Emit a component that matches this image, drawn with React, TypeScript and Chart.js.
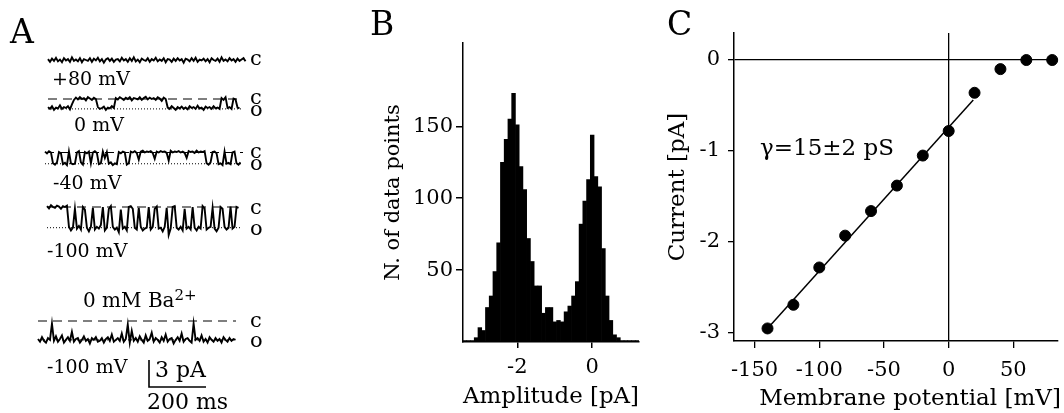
import React, { useEffect, useRef } from "react";
import { Chart, registerables } from "chart.js";

Chart.register(...registerables);

const FONT = "'DejaVu Serif', 'Liberation Serif', serif";
Chart.defaults.font.family = FONT;
Chart.defaults.color = "#000";

// ---------- Panel A : single-channel traces (pA, relative to closed level) ----------
const sampleMs = 7;
const trace80 = [
  0.1, -0.2, 0.15, -0.1, 0.25, -0.15, 0.05, -0.25, 0.2, -0.05,
  0.1, -0.2, 0.3, -0.1, 0.05, -0.15, 0.2, -0.25, 0.1, 0,
  -0.1, 0.2, -0.2, 0.15, -0.05, 0.25, -0.15, 0.1, -0.3, 0.05,
  0.2, -0.1, 0.15, -0.2, 0.05, 0.1, -0.15, 0.25, -0.05, 0.1,
  -0.2, 0.2, -0.1, 0.3, -0.15, 0.05, -0.25, 0.15, 0, -0.1,
  0.2, -0.2, 0.1, -0.05, 0.25, -0.15, 0.05, -0.1, 0.2, -0.25,
  0.1, 0.05, -0.2, 0.15, -0.1, 0.2, -0.05, 0.1, -0.3, 0.15,
  0.05, -0.15, 0.2, -0.1, 0.25, -0.2, 0.05, -0.05, 0.15, -0.15,
  0.1, -0.25, 0.2, 0, -0.1, 0.15, -0.2, 0.3, -0.1, 0.05,
  -0.15, 0.2, -0.05, 0.1, -0.2, 0.15, -0.1, 0.05, 0.2, -0.15,
];
const trace0 = [
  -0.9, -1.1, -0.8, -1.2, -0.95, -1.05, -0.7, -1.1, -0.9, -1.0, -0.8, -1.15, -0.6,
  -0.1, 0.15, -0.05, 0.2, 0.0, 0.1, -0.15, 0.2, 0.05, -0.1, 0.15, 0.0,
  -0.9, -1.1, -1.0, -0.85, -1.2, -0.95, -1.05, -0.8, -1.0,
  0.1, -0.05, 0.2, 0.05, -0.1, 0.15, 0.0, 0.2, -0.15, 0.1, 0.05, -0.05, 0.2,
  -0.1, 0.1, 0.25, -0.05, 0.15, 0.0, 0.1, -0.1, 0.2, 0.05, -0.2, 0.15, 0.0,
  -0.95, -1.1, -0.8, -1.0, -1.2, -0.9, -1.05, -0.85, -1.1, -0.95, -1.15, -0.8, -1.0, -0.9,
  -1.1, -0.75, -1.05, -0.95, -1.2, -0.85, -1.0, -0.9, -1.1, -0.8, -1.05, -0.95, -1.1,
  0.1, -0.1, 0.2, -1.0, -0.9, -1.1, 0.05, -0.05, -0.95, -1.05,
];
const trace40 = [
  0.1, -0.1, 0.15, 0, -1.2, -1.35, -1.1, 0.05, -0.1, -1.3, -1.15, -1.4, 0.1,
  -1.2, -1.3, -1.25, 0.0, 0.15, -1.1, -1.35, 0.05, -0.1, 0.1, -1.2, 0.0, 0.15, -0.05,
  -1.3, -1.2, 0.1, -0.6, 0.05, -1.25, -1.1, -1.4, -1.2, -1.3, 0.05, -0.1, 0.1, 0,
  -1.35, -1.2,
  0.1, 0.0, 0.15, -0.05, -0.8, 0.1, 0.2, 0.0, 0.1, 0.05, 0.15, -0.05, -0.7, 0.1, 0.0,
  0.15, 0.05, 0.1, -0.05, -0.9, 0.2, 0.0, 0.1, 0.05, 0.15, 0.0, 0.1, -0.05, -0.6, 0.15,
  0.05, 0.1, -0.05, 0.2, 0.0, 0.1, 0.05, 0.15,
  -1.2, -1.35, -1.1, 0.05, 0.1, -0.1, -1.3, -1.2, -1.4, 0.1, -1.25, -1.15, -1.3,
  0.0, 0.1, -1.2, -1.35, -1.1,
];
const trace100 = [
  0.1, -0.15, 0.2, 0.0, -0.1, 0.15, 0.05, -0.2, 0.1, 0.0, 0.15,
  -2.2, -2.6, -2.3, -0.2, -2.4, -2.1, -2.5, 0.0, -0.3, -2.3, -2.7, -2.2, -0.1,
  -2.5, -2.2, -2.4, -2.0, 0.0, -2.6, -2.3, -0.2, 0.1, -2.2, -2.5, -2.3, -2.8, -0.3,
  -2.4, -2.2, -2.6, 0.0, 0.1, -0.2, -2.3, -2.5, -0.1, -2.2, -2.6, -2.4, -2.3, 0.0,
  -2.5, -2.2, -0.2, 0.05, -2.4, -2.3, -2.7, -2.2, -0.1, -3.1, -2.4, 0.0, 0.1,
  -2.3, -2.5, -2.2, -2.6, -0.2, -2.4, -2.2, -2.5, 0.0, -2.3, -2.6, -2.2, -2.4,
  0.1, -0.15, -2.5, -2.3, -2.2, -0.1, -2.4, -2.7, -2.3, 0.0, -0.2, -2.2, -2.5, -2.3,
  0.05, -2.4, -2.2, 0.0, -0.1,
];
const traceBa = [
  -2.0, -2.3, -1.8, -2.2, -2.4, -1.9, -2.1, -0.3, -2.2, -1.7,
  -2.3, -2.0, -1.6, -2.4, -2.1, -1.8, -2.2, -1.2, -2.3, -2.0,
  -1.9, -2.4, -2.1, -1.7, -2.2, -2.0, -2.5, -1.9, -2.1, -1.8,
  -2.3, -2.2, -1.9, -2.4, -2.0, -1.8, -2.2, -1.5, -2.3, -2.1,
  -1.9, -2.2, -1.4, -2.3, -2.0, -0.4, -2.4, -1.1, -2.2, -1.9,
  -2.3, -1.7, -2.1, -2.4, -1.6, -2.2, -2.0, -1.3, -2.3, -1.9,
  -2.1, -2.4, -1.8, -2.2, -1.5, -2.3, -2.0, -1.9, -2.5, -2.1,
  -1.8, -2.2, -1.4, -2.3, -2.0, -1.9, -2.2, -2.4, -0.3, -2.1,
  -1.9, -2.2, -1.6, -2.3, -2.0, -2.4, -1.8, -2.1, -2.3, -1.9,
  -2.2, -2.0, -2.4, -1.8, -2.1, -2.3, -1.9, -2.2, -2.0, -2.1,
];
const openLevels = [null, -1.1, -1.25, -2.3, -2.1]; // pA
const scaleBarPA = 3;
const scaleBarMs = 200;

// ---------- Panel B : amplitude histogram ----------
const histBins = [
  -3.4, -3.3, -3.2, -3.1, -3.0, -2.9, -2.8, -2.7, -2.6, -2.5, -2.4, -2.3, -2.2, -2.1, -2.0,
  -1.9, -1.8, -1.7, -1.6, -1.5, -1.4, -1.3, -1.2, -1.1, -1.0, -0.9, -0.8, -0.7, -0.6, -0.5,
  -0.4, -0.3, -0.2, -0.1, 0.0, 0.1, 0.2, 0.3, 0.4, 0.5, 0.6, 0.7, 0.8, 0.9, 1.0, 1.1, 1.2,
];
const histCounts = [
  1, 1, 1, 3, 10, 8, 24, 32, 49, 69, 125, 141, 155, 173, 151,
  122, 106, 72, 56, 39, 39, 20, 24, 24, 14, 15, 14, 21, 25, 32,
  42, 82, 98, 113, 144, 115, 108, 65, 32, 15, 5, 3, 1, 1, 1, 1, 1,
];
const histXTicks = [-2, 0];
const histYTicks = [50, 100, 150];

// ---------- Panel C : I-V relation ----------
const ivVoltage = [-140, -120, -100, -80, -60, -40, -20, 0, 20, 40, 60, 80];
const ivCurrent = [-2.95, -2.69, -2.28, -1.93, -1.66, -1.38, -1.05, -0.78, -0.36, -0.1, 0.0, 0.0];
const fitVoltage = [-140, 19];
const fitCurrent = [-2.95, -0.44];
const ivXTicks = [-150, -100, -50, 0, 50];
const ivYTicks = [0, -1, -2, -3];

// ---------- layout (pixels) ----------
const A_PX_PER_MS = 0.285;
const A_PX_PER_PA = 9;
const A_W = 300;
const A_H = 413;
const traceRowPx = [60, 99, 152.5, 207, 321];
const traceStartPx = [48, 48, 45, 47, 38];
const refSpanPx = [[48, 246], [48, 241], [45, 243], [47, 240], [38, 236]];
const scaleBarAnchorPx = [149, 387];

function makeA(canvas: HTMLCanvasElement) {
  const traces = [trace80, trace0, trace40, trace100, traceBa];
  const datasets: any[] = [];
  traces.forEach((vals, k) => {
    const x0 = traceStartPx[k] / A_PX_PER_MS;
    const off = -traceRowPx[k] / A_PX_PER_PA;
    datasets.push({
      data: vals.map((v, i) => ({ x: x0 + i * sampleMs, y: off + v })),
      borderColor: "#000",
      borderWidth: 1.9,
      pointRadius: 0,
      tension: 0,
    });
    const lvl = openLevels[k];
    if (lvl !== null) {
      const xs = refSpanPx[k][0] / A_PX_PER_MS;
      const xe = refSpanPx[k][1] / A_PX_PER_MS;
      datasets.push({
        data: [{ x: xs, y: off }, { x: xe, y: off }],
        borderColor: "#000",
        borderWidth: 1.1,
        borderDash: [9, 6],
        pointRadius: 0,
      });
      datasets.push({
        data: [{ x: xs, y: off + lvl }, { x: xe, y: off + lvl }],
        borderColor: "#000",
        borderWidth: 1,
        borderDash: [1, 2],
        pointRadius: 0,
      });
    }
  });
  const sx = scaleBarAnchorPx[0] / A_PX_PER_MS;
  const sy = -scaleBarAnchorPx[1] / A_PX_PER_PA;
  datasets.push({
    data: [
      { x: sx, y: sy + scaleBarPA },
      { x: sx, y: sy },
      { x: sx + scaleBarMs, y: sy },
    ],
    borderColor: "#000",
    borderWidth: 1.6,
    pointRadius: 0,
  });
  return new Chart(canvas, {
    type: "line",
    data: { datasets },
    options: {
      responsive: false,
      animation: false,
      events: [],
      layout: { padding: 0 },
      plugins: { legend: { display: false }, tooltip: { enabled: false } },
      scales: {
        x: { type: "linear", display: false, min: 0, max: A_W / A_PX_PER_MS },
        y: { type: "linear", display: false, min: -A_H / A_PX_PER_PA, max: 0 },
      },
    },
  });
}

function makeB(canvas: HTMLCanvasElement) {
  return new Chart(canvas, {
    type: "bar",
    data: {
      labels: histBins.map((b) => b.toFixed(1)),
      datasets: [
        {
          data: histCounts,
          backgroundColor: "#000",
          borderWidth: 0,
          barPercentage: 1,
          categoryPercentage: 1,
        },
      ],
    },
    options: {
      responsive: false,
      animation: false,
      events: [],
      layout: { padding: { top: 43, right: 23, left: 0, bottom: 0 } },
      plugins: { legend: { display: false }, tooltip: { enabled: false } },
      scales: {
        x: {
          type: "category",
          offset: true,
          grid: { display: true, drawOnChartArea: false, offset: false, color: "#000", tickLength: 6, lineWidth: 1.5 },
          border: { display: true, color: "#000", width: 1.5 },
          ticks: {
            autoSkip: false,
            maxRotation: 0,
            padding: 7,
            color: "#000",
            font: { size: 21 },
            callback: (v: any) => String(histBins[v as number]),
          },
          afterBuildTicks: (s: any) => {
            s.ticks = histBins
              .map((b, i) => ({ value: i }))
              .filter((t) => histXTicks.some((x) => Math.abs(x - histBins[t.value]) < 1e-6));
          },
          afterFit: (s: any) => {
            s.height = 71;
          },
          title: { display: true, text: "Amplitude [pA]", color: "#000", font: { size: 23 }, padding: { top: 0, bottom: 2 } },
        },
        y: {
          type: "linear",
          min: 0,
          max: 208,
          grid: { display: true, drawOnChartArea: false, color: "#000", tickLength: 7, lineWidth: 1.5 },
          border: { display: true, color: "#000", width: 1.5 },
          ticks: { padding: 3, color: "#000", font: { size: 21 } },
          afterBuildTicks: (s: any) => {
            s.ticks = histYTicks.map((v) => ({ value: v }));
          },
          afterFit: (s: any) => {
            s.width = 91;
          },
          title: { display: true, text: "N. of data points", color: "#000", font: { size: 21 }, padding: { top: 9, bottom: 0 } },
        },
      },
    },
  });
}

function makeC(canvas: HTMLCanvasElement) {
  const zeroColor = (ctx: any) => (ctx.tick && ctx.tick.value === 0 ? "#000" : "rgba(0,0,0,0)");
  return new Chart(canvas, {
    type: "scatter",
    data: {
      datasets: [
        {
          type: "line",
          data: fitVoltage.map((v, i) => ({ x: v, y: fitCurrent[i] })),
          borderColor: "#000",
          borderWidth: 1.5,
          pointRadius: 0,
          order: 2,
        } as any,
        {
          type: "scatter",
          data: ivVoltage.map((v, i) => ({ x: v, y: ivCurrent[i] })),
          backgroundColor: "#000",
          borderColor: "#000",
          pointRadius: 5.5,
          clip: false,
          order: 1,
        },
      ],
    },
    options: {
      responsive: false,
      animation: false,
      events: [],
      layout: { padding: { top: 33, right: 0, left: 0, bottom: 0 } },
      plugins: { legend: { display: false }, tooltip: { enabled: false } },
      scales: {
        x: {
          type: "linear",
          min: -165.9,
          max: 84.1,
          grid: { display: true, drawOnChartArea: true, color: zeroColor, tickColor: "#000", tickLength: 7, lineWidth: 1.3 },
          border: { display: true, color: "#000", width: 1.5 },
          ticks: { padding: 10, color: "#000", font: { size: 21 }, maxRotation: 0 },
          afterBuildTicks: (s: any) => {
            s.ticks = ivXTicks.map((v) => ({ value: v }));
          },
          afterFit: (s: any) => {
            s.height = 72;
          },
        },
        y: {
          type: "linear",
          min: -3.088,
          max: 0.297,
          grid: { display: true, drawOnChartArea: true, color: zeroColor, tickColor: "#000", tickLength: 6, lineWidth: 1.3 },
          border: { display: true, color: "#000", width: 1.5 },
          ticks: { padding: 8, color: "#000", font: { size: 21 } },
          afterBuildTicks: (s: any) => {
            s.ticks = ivYTicks.map((v) => ({ value: v }));
          },
          afterFit: (s: any) => {
            s.width = 79;
          },
          title: { display: true, text: "Current [pA]", color: "#000", font: { size: 23 }, padding: { top: 9, bottom: 0 } },
        },
      },
    },
  });
}

type LabelProps = { x: number; y: number; size: number; center?: boolean; children: React.ReactNode };
function Label({ x, y, size, center, children }: LabelProps) {
  return (
    <div
      style={{
        position: "absolute",
        left: x,
        top: y,
        transform: center ? "translate(-50%, -50%)" : "translateY(-50%)",
        fontSize: size,
        lineHeight: 1,
        whiteSpace: "nowrap",
        fontFamily: FONT,
        color: "#000",
      }}
    >
      {children}
    </div>
  );
}

export default function App() {
  const aRef = useRef<HTMLCanvasElement>(null);
  const bRef = useRef<HTMLCanvasElement>(null);
  const cRef = useRef<HTMLCanvasElement>(null);

  useEffect(() => {
    const charts = [makeA(aRef.current!), makeB(bRef.current!), makeC(cRef.current!)];
    return () => charts.forEach((c) => c.destroy());
  }, []);

  const co: [string, number][] = [
    ["c", 58], ["c", 97], ["o", 109], ["c", 151], ["o", 163], ["c", 207], ["o", 228], ["c", 320], ["o", 340],
  ];

  return (
    <div
      style={{
        position: "absolute",
        left: 0,
        top: 0,
        width: 1064,
        height: 413,
        background: "#fff",
        overflow: "hidden",
      }}
    >
      <canvas ref={aRef} width={A_W} height={A_H} style={{ position: "absolute", left: 0, top: 0 }} />
      <canvas ref={bRef} width={290} height={413} style={{ position: "absolute", left: 372, top: 0 }} />
      <canvas ref={cRef} width={409} height={413} style={{ position: "absolute", left: 655, top: 0 }} />

      <Label x={10} y={31} size={33}>A</Label>
      <Label x={52} y={78} size={19}>+80 mV</Label>
      <Label x={74} y={124} size={19}>0 mV</Label>
      <Label x={53} y={182} size={19}>-40 mV</Label>
      <Label x={47} y={250} size={19}>-100 mV</Label>
      <Label x={83} y={300} size={20}>
        0 mM Ba<sup style={{ fontSize: "0.75em", verticalAlign: "0.45em", lineHeight: 0 }}>2+</sup>
      </Label>
      <Label x={47} y={366} size={19}>-100 mV</Label>
      <Label x={155} y={370} size={22}>3 pA</Label>
      <Label x={147} y={402} size={22}>200 ms</Label>
      {co.map(([t, y], i) => (
        <Label key={i} x={250} y={y} size={21}>{t}</Label>
      ))}

      <Label x={370} y={23} size={33}>B</Label>
      <Label x={667} y={23} size={33}>C</Label>
      <Label x={760} y={147} size={23}>γ=15±2 pS</Label>
      <Label x={910} y={397} size={23} center>Membrane potential [mV]</Label>
    </div>
  );
}
